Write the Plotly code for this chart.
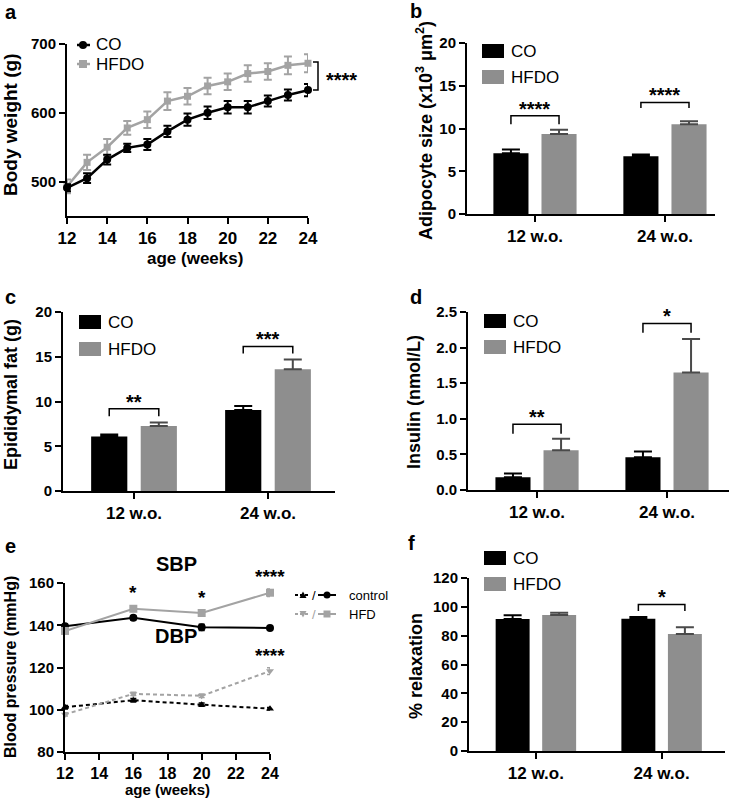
import plotly.graph_objects as go

W, H = 734, 805
FONT = "Liberation Sans, Arial, Helvetica, sans-serif"
BLACK = "#000000"
GRAY_LINE = "#a3a3a3"
GRAY_BAR = "#8e8e8e"
GRAY_ERR = "#4a4a4a"

# ---------------- data ----------------
# panel a: body weight
weeks_a = [12, 13, 14, 15, 16, 17, 18, 19, 20, 21, 22, 23, 24]
bw_co = [491, 505, 532, 549, 554, 573, 590, 600, 608, 608, 617, 626, 633]
bw_co_err = [5, 7, 7, 6, 8, 8, 9, 9, 9, 9, 8, 8, 9]
bw_hfdo = [493, 528, 550, 578, 590, 617, 624, 639, 645, 657, 660, 669, 672]
bw_hfdo_err = [10, 11, 12, 10, 12, 13, 12, 12, 12, 12, 12, 13, 13]

groups = ["12 w.o.", "24 w.o."]
# panel b: adipocyte size
adip_co = [7.1, 6.75]
adip_co_err = [0.45, 0.2]
adip_hfdo = [9.35, 10.5]
adip_hfdo_err = [0.5, 0.35]
# panel c: epididymal fat
fat_co = [6.1, 9.05]
fat_co_err = [0.2, 0.45]
fat_hfdo = [7.25, 13.6]
fat_hfdo_err = [0.4, 1.1]
# panel d: insulin
ins_co = [0.18, 0.46]
ins_co_err = [0.05, 0.08]
ins_hfdo = [0.56, 1.65]
ins_hfdo_err = [0.16, 0.47]
# panel f: relaxation
rel_co = [91.5, 91.7]
rel_co_err = [2.6, 1.2]
rel_hfdo = [94.3, 81.1]
rel_hfdo_err = [1.6, 4.7]

# panel e: blood pressure
weeks_e = [12, 16, 20, 24]
sbp_co = [139.5, 143.5, 139, 138.7]
sbp_co_err = [1.0, 1.0, 1.5, 0.8]
sbp_hfd = [137.3, 147.8, 145.8, 155.4]
sbp_hfd_err = [1.0, 1.0, 1.0, 1.8]
dbp_co = [101.2, 104.5, 102.4, 100.5]
dbp_co_err = [0.8, 0.8, 0.8, 0.6]
dbp_hfd = [97.8, 107.5, 106.6, 118.3]
dbp_hfd_err = [0.8, 0.8, 0.8, 1.6]

# significance: (text, bracket top, bracket arm end) per group
sig_b = [("****", 11.5, 10.5), ("****", 13.05, 12.4)]
sig_c = [("**", 9.2, 8.35), ("***", 16.15, 15.35)]
sig_d = [("**", 0.925, 0.79), ("*", 2.34, 2.21)]
sig_f = [None, ("*", 101.7, 97.1)]
# panel e stars: (week, anchored value, text)
sig_e = [(16, 147.8, "*"), (20, 145.8, "*"), (24, 155.4, "****"), (24, 118.3, "****")]


# ---------------- helpers ----------------
def X(px):
    return px / W


def Y(py):
    return 1 - py / H


fig = go.Figure()
shapes = []
annotations = []


def tf(size):
    return dict(family=FONT, size=size, color=BLACK, weight="bold")


AX_COMMON = dict(
    showline=True, linewidth=2, linecolor=BLACK, ticks="outside", ticklen=6,
    tickwidth=2, tickcolor=BLACK, showgrid=False, zeroline=False,
    automargin=False, fixedrange=True,
)


def add_axes(n, xdom, ydom, xkw, ykw, xfont=17, yfont=15):
    xa = dict(AX_COMMON)
    xa.update(domain=[X(xdom[0]), X(xdom[1])], anchor="y%d" % n if n > 1 else "y",
              tickfont=tf(xfont))
    xa.update(xkw)
    ya = dict(AX_COMMON)
    ya.update(domain=[Y(ydom[1]), Y(ydom[0])], anchor="x%d" % n if n > 1 else "x",
              tickfont=tf(yfont))
    ya.update(ykw)
    key = "" if n == 1 else str(n)
    fig.update_layout(**{"xaxis" + key: xa, "yaxis" + key: ya})


def ytitle(text, x, y, size=18):
    annotations.append(dict(text=text, x=X(x), y=Y(y), xref="paper", yref="paper",
                            textangle=-90, showarrow=False, font=tf(size),
                            xanchor="center", yanchor="middle"))


def text_at(text, x, y, size=16, weight="normal", xanchor="left", color=BLACK):
    annotations.append(dict(text=text, x=X(x), y=Y(y), xref="paper", yref="paper",
                            showarrow=False,
                            font=dict(family=FONT, size=size, color=color, weight=weight),
                            xanchor=xanchor, yanchor="middle"))


def bar_legend(x0, y_co, y_hf):
    for yc, col, label in [(y_co, BLACK, "CO"), (y_hf, GRAY_BAR, "HFDO")]:
        shapes.append(dict(type="rect", xref="paper", yref="paper",
                           x0=X(x0), x1=X(x0 + 22), y0=Y(yc + 7), y1=Y(yc - 7),
                           fillcolor=col, line=dict(width=0)))
        text_at(label, x0 + 27, yc, size=17)


# bar positions (category units)
OFF_CO, OFF_HF, BW = -0.32, 0.05, 0.27
C_CO = OFF_CO + BW / 2
C_HF = OFF_HF + BW / 2


def add_bars(n, co, co_err, hf, hf_err):
    xa = "x%d" % n
    ya = "y%d" % n
    fig.add_trace(go.Bar(x=groups, y=co, offset=OFF_CO, width=BW, xaxis=xa, yaxis=ya,
                         marker=dict(color=BLACK, line=dict(width=0)), name="CO", showlegend=False,
                         error_y=dict(type="data", array=co_err, arrayminus=[0] * len(co),
                                      symmetric=False, color=BLACK, thickness=2, width=9),
                         cliponaxis=False))
    fig.add_trace(go.Bar(x=groups, y=hf, offset=OFF_HF, width=BW, xaxis=xa, yaxis=ya,
                         marker=dict(color=GRAY_BAR, line=dict(width=0)), name="HFDO", showlegend=False,
                         error_y=dict(type="data", array=hf_err, arrayminus=[0] * len(hf),
                                      symmetric=False, color=GRAY_ERR, thickness=2, width=9),
                         cliponaxis=False))


def add_sig(n, sigs, size=20):
    xa = "x%d" % n
    ya = "y%d" % n
    for gi, s in enumerate(sigs):
        if s is None:
            continue
        txt, top, arm = s
        xl, xr = gi + C_CO, gi + C_HF
        shapes.append(dict(type="path", xref=xa, yref=ya,
                           path="M%f,%f L%f,%f L%f,%f L%f,%f" % (xl, arm, xl, top, xr, top, xr, arm),
                           line=dict(color=BLACK, width=1.5)))
        annotations.append(dict(text=txt, x=(xl + xr) / 2, y=top, xref=xa, yref=ya,
                                showarrow=False, yanchor="middle", xanchor="center", yshift=7,
                                font=tf(size)))


# ---------------- panel a ----------------
add_axes(1, (67, 308), (44, 216),
         dict(range=[12, 24], tickvals=[12, 14, 16, 18, 20, 22, 24]),
         dict(range=[450, 700], tickvals=[500, 600, 700]))
fig.add_trace(go.Scatter(x=weeks_a, y=bw_hfdo, mode="lines+markers", xaxis="x", yaxis="y",
                         line=dict(color=GRAY_LINE, width=2.5),
                         marker=dict(symbol="square", size=7, color=GRAY_LINE),
                         error_y=dict(type="data", array=bw_hfdo_err, color=GRAY_LINE, thickness=2, width=4),
                         cliponaxis=False, showlegend=False))
fig.add_trace(go.Scatter(x=weeks_a, y=bw_co, mode="lines+markers", xaxis="x", yaxis="y",
                         line=dict(color=BLACK, width=2.5),
                         marker=dict(symbol="circle", size=8, color=BLACK),
                         error_y=dict(type="data", array=bw_co_err, color=BLACK, thickness=2, width=4),
                         cliponaxis=False, showlegend=False))
# legend a
for yc, col, sym, label in [(45, BLACK, "circle", "CO"), (64, GRAY_LINE, "rect", "HFDO")]:
    shapes.append(dict(type="line", xref="paper", yref="paper", x0=X(77), x1=X(90),
                       y0=Y(yc), y1=Y(yc), line=dict(color=col, width=2.5)))
    shapes.append(dict(type=sym, xref="paper", yref="paper", xsizemode="pixel", ysizemode="pixel",
                       xanchor=X(83), yanchor=Y(yc), x0=-4, x1=4, y0=-4, y1=4,
                       fillcolor=col, line=dict(width=0)))
    text_at(label, 94, yc, size=17)
# bracket a
shapes.append(dict(type="path", xref="paper", yref="paper",
                   path="M%f,%f L%f,%f L%f,%f L%f,%f" % (X(313), Y(62), X(318), Y(62), X(318), Y(90), X(313), Y(90)),
                   line=dict(color=BLACK, width=1.5)))
text_at("****", 324, 80, size=20, weight="bold")
ytitle("Body weight (g)", 11, 125, size=19)
text_at("age (weeks)", 195, 258, size=17, weight="bold", xanchor="center")

# ---------------- panel b ----------------
add_axes(2, (467, 715), (43, 214),
         dict(type="category", range=[-0.523, 1.385]),
         dict(range=[0, 20], tickvals=[0, 5, 10, 15, 20]))
add_bars(2, adip_co, adip_co_err, adip_hfdo, adip_hfdo_err)
add_sig(2, sig_b)
bar_legend(482, 51, 77)
ytitle("Adipocyte size (x10<sup>3</sup> μm<sup>2</sup>)", 425, 130, size=18)

# ---------------- panel c ----------------
add_axes(3, (63, 335), (312, 491),
         dict(type="category", range=[-0.53, 1.5]),
         dict(range=[0, 20], tickvals=[0, 5, 10, 15, 20]))
add_bars(3, fat_co, fat_co_err, fat_hfdo, fat_hfdo_err)
add_sig(3, sig_c)
bar_legend(79, 322, 349)
ytitle("Epididymal fat (g)", 11, 395, size=18)

# ---------------- panel d ----------------
add_axes(4, (468, 729), (312, 490),
         dict(type="category", range=[-0.531, 1.477]),
         dict(range=[0, 2.5], tickvals=[0, 0.5, 1.0, 1.5, 2.0, 2.5], tickformat=".1f"))
add_bars(4, ins_co, ins_co_err, ins_hfdo, ins_hfdo_err)
add_sig(4, sig_d)
bar_legend(484, 321, 347)
ytitle("Insulin (nmol/L)", 414, 402, size=18)

# ---------------- panel e ----------------
add_axes(5, (65, 270), (583, 752),
         dict(range=[12, 24], tickvals=[12, 14, 16, 18, 20, 22, 24]),
         dict(range=[80, 160], tickvals=[80, 100, 120, 140, 160]), xfont=16, yfont=15)
for yv, ev, col, dash, sym, msz in [
    (dbp_co, dbp_co_err, BLACK, "4px,3px", "triangle-up", 7),
    (dbp_hfd, dbp_hfd_err, GRAY_LINE, "4px,3px", "triangle-down", 7),
    (sbp_co, sbp_co_err, BLACK, "solid", "circle", 8),
    (sbp_hfd, sbp_hfd_err, GRAY_LINE, "solid", "square", 8),
]:
    fig.add_trace(go.Scatter(x=weeks_e, y=yv, mode="lines+markers", xaxis="x5", yaxis="y5",
                             line=dict(color=col, width=2, dash=dash),
                             marker=dict(symbol=sym, size=msz, color=col),
                             error_y=dict(type="data", array=ev, color=col, thickness=1.5, width=3),
                             cliponaxis=False, showlegend=False))
for xw, yv, txt in sig_e:
    annotations.append(dict(text=txt, x=xw, y=yv, xref="x5", yref="y5", showarrow=False,
                            xanchor="center", yanchor="middle", yshift=16, font=tf(19)))
text_at("SBP", 176, 564, size=20, weight="bold", xanchor="center")
text_at("DBP", 176, 636, size=20, weight="bold", xanchor="center")
ytitle("Blood pressure (mmHg)", 10, 667, size=16)
text_at("age (weeks)", 167, 789, size=15, weight="bold", xanchor="center")
# legend e (manual)
for yc, col, tri, sqsym, label in [
    (595, BLACK, "M-3.5,-3 L3.5,-3 L0,3.5 Z", "circle", "control"),
    (614, GRAY_LINE, "M-3.5,3 L3.5,3 L0,-3.5 Z", "rect", "HFD"),
]:
    shapes.append(dict(type="line", xref="paper", yref="paper", x0=X(295), x1=X(310),
                       y0=Y(yc), y1=Y(yc), line=dict(color=col, width=2, dash="3px,2px")))
    shapes.append(dict(type="path", xref="paper", yref="paper", xsizemode="pixel", ysizemode="pixel",
                       xanchor=X(303), yanchor=Y(yc), path=tri,
                       fillcolor=col, line=dict(width=0)))
    text_at("/", 314, yc, size=13, color=col, xanchor="center")
    shapes.append(dict(type="line", xref="paper", yref="paper", x0=X(318), x1=X(336),
                       y0=Y(yc), y1=Y(yc), line=dict(color=col, width=2)))
    shapes.append(dict(type=sqsym, xref="paper", yref="paper", xsizemode="pixel", ysizemode="pixel",
                       xanchor=X(327), yanchor=Y(yc), x0=-3.5, x1=3.5, y0=-3.5, y1=3.5,
                       fillcolor=col, line=dict(width=0)))
    text_at(label, 347, yc, size=13)

# ---------------- panel f ----------------
add_axes(6, (469, 725), (578, 751),
         dict(type="category", range=[-0.532, 1.504]),
         dict(range=[0, 120], tickvals=[0, 20, 40, 60, 80, 100, 120]))
add_bars(6, rel_co, rel_co_err, rel_hfdo, rel_hfdo_err)
add_sig(6, sig_f)
bar_legend(484, 558, 584)
ytitle("% relaxation", 416, 666, size=18)

# panel letters
for letter, x, y in [("a", 3, 12), ("b", 408, 11), ("c", 3, 297), ("d", 408, 297), ("e", 3, 546), ("f", 406, 543)]:
    text_at(letter, x, y, size=20, weight="bold")

fig.update_layout(
    width=W, height=H, margin=dict(l=0, r=0, t=0, b=0),
    paper_bgcolor="white", plot_bgcolor="white", showlegend=False,
    barmode="overlay", shapes=shapes, annotations=annotations,
    font=dict(family=FONT, color=BLACK),
)
# remove the browser's default 8px page margin so the figure fills the window
fig.write_html("out.html", config={"displayModeBar": False},
               post_script="document.body.style.margin='0';")
